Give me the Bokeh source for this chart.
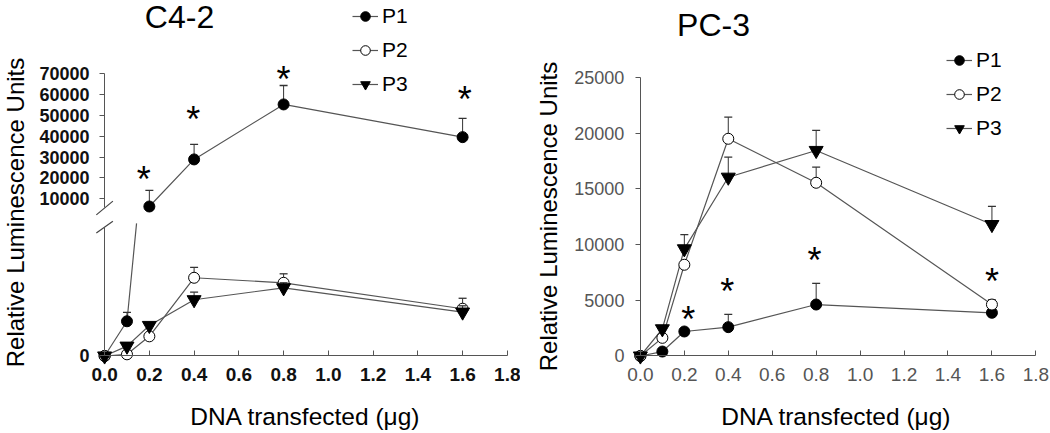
import math
from bokeh.plotting import figure
from bokeh.models import (Range1d, LinearAxis, FixedTicker, NumeralTickFormatter, Legend,
                          LegendItem, Label, ColumnDataSource, Grid)
from bokeh.layouts import row
from bokeh.embed import file_html
from bokeh.resources import INLINE
from bokeh.core.properties import value

FONT = "Liberation Sans"

# ---------------- data ----------------
dna = [0.0, 0.1, 0.2, 0.4, 0.8, 1.6]
series = ["P1", "P2", "P3"]
x_ticks = [0.0, 0.2, 0.4, 0.6, 0.8, 1.0, 1.2, 1.4, 1.6, 1.8]

# C4-2 (broken axis: lower part only "0" labelled, upper part 10000-70000)
c42_low_ticks = [0]
c42_up_ticks = [10000, 20000, 30000, 40000, 50000, 60000, 70000]
c42_low_max = 3080      # top of lower axis segment
c42_up_min = 5600       # bottom of upper axis segment
c42_low_cut = 3170      # where the line leaving the lower segment stops

c42_p1 = [0, 830, 6300, 28900, 55300, 39600]
c42_p1_err = [0, 215, 7700, 7200, 9100, 9000]
c42_p2 = [0, 40, 470, 1870, 1750, 1130]
c42_p2_err = [0, 0, 0, 250, 215, 250]
c42_p3 = [0, 235, 730, 1345, 1630, 1050]
c42_p3_err = [0, 0, 0, 180, 120, 150]
c42_star_x = [0.175, 0.396, 0.80, 1.61]
c42_star_y = [22100, 51000, 70000, 60500]

# PC-3
pc3_ticks = [0, 5000, 10000, 15000, 20000, 25000]
pc3_p1 = [0, 400, 2200, 2590, 4620, 3880]
pc3_p1_err = [0, 0, 0, 1140, 1900, 0]
pc3_p2 = [0, 1630, 8190, 19500, 15550, 4620]
pc3_p2_err = [0, 0, 0, 1940, 1400, 420]
pc3_p3 = [0, 2440, 9620, 16050, 18450, 11800]
pc3_p3_err = [0, 0, 1280, 1800, 1800, 1640]
pc3_star_x = [0.218, 0.395, 0.792, 1.60]
pc3_star_y = [3790, 6330, 9110, 7230]

# ---------------- layout (frame fills each canvas) ----------------
H = 433
L_W, R_W = 520, 530
L_OFF, R_OFF = 0, 520
LEFT_X = (-0.4653, 1.8588)
LEFT_LOW = (-1853, 8499)
LEFT_UP = (-102674, 105197)
RIGHT_X = (-0.5457, 1.8666)
RIGHT_Y = (-6957, 31912)

STYLE = {
    "P1": dict(marker="circle", fill_color="black", size=11),
    "P2": dict(marker="circle", fill_color="white", size=11),
    "P3": dict(marker="inverted_triangle", fill_color="black", size=14),
}
LINE_COLOR = "#555555"
ERR_COLOR = "#333333"


def page_to_data(px, py, off, w, xr, yr):
    x = xr[0] + (px - off) / w * (xr[1] - xr[0])
    y = yr[1] - py / H * (yr[1] - yr[0])
    return x, y


def make_fig(xr, yr, w):
    p = figure(x_range=Range1d(*xr), y_range=Range1d(*yr),
               frame_width=w, frame_height=H,
               min_border_left=0, min_border_right=0, min_border_top=0, min_border_bottom=0,
               x_axis_location=None, y_axis_location=None,
               toolbar_location=None, output_backend="svg")
    p.outline_line_color = None
    p.background_fill_color = "white"
    p.border_fill_color = "white"
    for obj in list(p.center):
        if isinstance(obj, Grid):
            obj.visible = False
    return p


def axis_style(bold, color, line_color):
    return dict(minor_tick_line_color=None,
                axis_line_color=line_color, major_tick_line_color=line_color,
                major_label_text_font=FONT,
                major_label_text_font_style="bold" if bold else "normal",
                major_label_text_color=color)


def draw_series(p, xs, ys, errs, name, range_name="default"):
    st = STYLE[name]
    ex = [x for x, e in zip(xs, errs) if e > 0]
    ey0 = [y for y, e in zip(ys, errs) if e > 0]
    ey1 = [y + e for y, e in zip(ys, errs) if e > 0]
    if ex:
        p.segment(x0=ex, y0=ey0, x1=ex, y1=ey1, line_color=ERR_COLOR, line_width=1,
                  y_range_name=range_name)
        p.scatter(x=ex, y=ey1, marker="dash", size=8, line_color=ERR_COLOR, line_width=1.3,
                  y_range_name=range_name)
    sc = p.scatter(x=xs, y=ys, marker=st["marker"], size=st["size"], fill_color=st["fill_color"],
                   line_color="black", line_width=1, y_range_name=range_name)
    return sc


def add_stars(p, xs, ys, range_name="default"):
    src = ColumnDataSource(dict(x=xs, y=ys, t=["*"] * len(xs)))
    p.text(x="x", y="y", text="t", source=src, text_font=value(FONT), text_font_size="36px",
           text_align="center", text_baseline="middle", y_offset=6, text_color="black",
           y_range_name=range_name)


def add_legend(p, renderers, loc):
    items = [LegendItem(label=n, renderers=r) for n, r in zip(series, renderers)]
    lg = Legend(items=items, location=loc, padding=0, margin=0, spacing=10,
                glyph_width=26, glyph_height=24, label_height=24, label_standoff=4,
                label_text_font=FONT, label_text_font_size="21px", label_text_color="black",
                background_fill_alpha=0, border_line_color=None)
    p.add_layout(lg)


def add_label(p, text, px, py, off, w, xr, yr, size, angle=0.0):
    x, y = page_to_data(px, py, off, w, xr, yr)
    p.add_layout(Label(x=x, y=y, text=text, text_font=FONT, text_font_size=size,
                       text_align="center", text_baseline="middle", angle=angle,
                       text_color="black"))


# ================= Left: C4-2 =================
pl = make_fig(LEFT_X, LEFT_LOW, L_W)
pl.extra_y_ranges = {"upper": Range1d(*LEFT_UP)}

lax = axis_style(True, "#111111", "#555555")
xa = LinearAxis(fixed_location=0, bounds=(x_ticks[0], x_ticks[-1]), ticker=FixedTicker(ticks=x_ticks),
                formatter=NumeralTickFormatter(format="0.0"), major_tick_in=5, major_tick_out=0,
                major_label_standoff=12, major_label_text_font_size="19px", **lax)
pl.add_layout(xa, "below")
ya_low = LinearAxis(fixed_location=0, bounds=(0, c42_low_max), ticker=FixedTicker(ticks=c42_low_ticks),
                    major_tick_in=0, major_tick_out=5, major_label_standoff=10,
                    major_label_text_font_size="18px", **lax)
pl.add_layout(ya_low, "left")
ya_up = LinearAxis(y_range_name="upper", fixed_location=0, bounds=(c42_up_min, c42_up_ticks[-1]),
                   ticker=FixedTicker(ticks=c42_up_ticks), formatter=NumeralTickFormatter(format="0"),
                   major_tick_in=0, major_tick_out=5, major_label_standoff=10,
                   major_label_text_font_size="18px", **lax)
pl.add_layout(ya_up, "left")

# axis break marks (decoration around x = 0)
bx = 0.037
pl.segment(x0=[-bx], y0=[c42_up_min - 3300], x1=[bx], y1=[c42_up_min + 3300],
           line_color="#444444", line_width=1.2, y_range_name="upper")
pl.segment(x0=[-bx], y0=[c42_low_max - 140], x1=[bx], y1=[c42_low_max + 140],
           line_color="#444444", line_width=1.2)

# P1: lower part + upper part
low_idx = [i for i, v in enumerate(c42_p1) if v <= c42_low_max]
up_idx = [i for i, v in enumerate(c42_p1) if v > c42_low_max]
ia, ib = low_idx[-1], up_idx[0]
x_cut = dna[ia] + (dna[ib] - dna[ia]) * (c42_low_cut - c42_p1[ia]) / (c42_p1[ib] - c42_p1[ia])
pl.line([dna[i] for i in low_idx] + [x_cut], [c42_p1[i] for i in low_idx] + [c42_low_cut],
        line_color=LINE_COLOR, line_width=1.2)
l1 = pl.line([dna[i] for i in up_idx], [c42_p1[i] for i in up_idx], line_color=LINE_COLOR,
             line_width=1.2, y_range_name="upper")
l2 = pl.line(dna, c42_p2, line_color=LINE_COLOR, line_width=1.2)
l3 = pl.line(dna, c42_p3, line_color=LINE_COLOR, line_width=1.2)

draw_series(pl, [dna[i] for i in low_idx], [c42_p1[i] for i in low_idx],
            [c42_p1_err[i] for i in low_idx], "P1")
s1 = draw_series(pl, [dna[i] for i in up_idx], [c42_p1[i] for i in up_idx],
                 [c42_p1_err[i] for i in up_idx], "P1", "upper")
s2 = draw_series(pl, dna, c42_p2, c42_p2_err, "P2")
s3 = draw_series(pl, dna, c42_p3, c42_p3_err, "P3")
add_stars(pl, c42_star_x, c42_star_y, "upper")
add_legend(pl, [[l1, s1], [l2, s2], [l3, s3]], (352, 337))

add_label(pl, "C4-2", 179, 16, L_OFF, L_W, LEFT_X, LEFT_LOW, "32px")
add_label(pl, "Relative Luminescence Units", 14.5, 212, L_OFF, L_W, LEFT_X, LEFT_LOW,
          "24px", math.pi / 2)
add_label(pl, "DNA transfected (\u03bcg)", 305, 416, L_OFF, L_W, LEFT_X, LEFT_LOW, "24.5px")

# ================= Right: PC-3 =================
pr = make_fig(RIGHT_X, RIGHT_Y, R_W)
rax = axis_style(False, "#555555", "#555555")
xa2 = LinearAxis(fixed_location=0, bounds=(x_ticks[0], x_ticks[-1]), ticker=FixedTicker(ticks=x_ticks),
                 formatter=NumeralTickFormatter(format="0.0"), major_tick_in=5, major_tick_out=0,
                 major_label_standoff=12, major_label_text_font_size="19px", **rax)
pr.add_layout(xa2, "below")
ya2 = LinearAxis(fixed_location=0, bounds=(pc3_ticks[0], pc3_ticks[-1]), ticker=FixedTicker(ticks=pc3_ticks),
                 formatter=NumeralTickFormatter(format="0"), major_tick_in=0, major_tick_out=5,
                 major_label_standoff=11, major_label_text_font_size="18px", **rax)
pr.add_layout(ya2, "left")

r1 = pr.line(dna, pc3_p1, line_color=LINE_COLOR, line_width=1.2)
r2 = pr.line(dna, pc3_p2, line_color=LINE_COLOR, line_width=1.2)
r3 = pr.line(dna, pc3_p3, line_color=LINE_COLOR, line_width=1.2)
q1 = draw_series(pr, dna, pc3_p1, pc3_p1_err, "P1")
q2 = draw_series(pr, dna, pc3_p2, pc3_p2_err, "P2")
q3 = draw_series(pr, dna, pc3_p3, pc3_p3_err, "P3")
add_stars(pr, pc3_star_x, pc3_star_y)
add_legend(pr, [[r1, q1], [r2, q2], [r3, q3]], (426, 293))

add_label(pr, "PC-3", 713, 24, R_OFF, R_W, RIGHT_X, RIGHT_Y, "32px")
add_label(pr, "Relative Luminescence Units", 548, 216, R_OFF, R_W, RIGHT_X, RIGHT_Y,
          "24px", math.pi / 2)
add_label(pr, "DNA transfected (\u03bcg)", 836, 416, R_OFF, R_W, RIGHT_X, RIGHT_Y, "24.5px")

layout = row(pl, pr)
open("out.html", "w").write(file_html(layout, INLINE))
